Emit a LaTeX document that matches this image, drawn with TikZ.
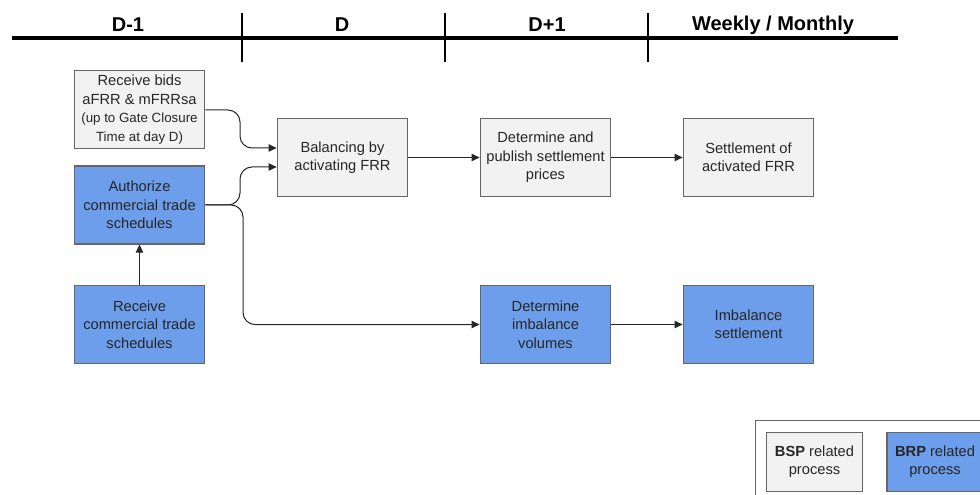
\documentclass[tikz,border=0pt]{standalone}
\usepackage{fontspec}
\setmainfont{Liberation Sans}
\usetikzlibrary{arrows.meta}
\definecolor{bspfill}{HTML}{F2F2F2}
\definecolor{brpfill}{HTML}{6D9EEB}
\definecolor{boxline}{HTML}{666666}
\tikzset{
  proc/.style={draw=boxline, line width=0.8pt, minimum width=98pt, minimum height=58.5pt,
    inner sep=1pt, align=center, font=\fontsize{11}{13.8}\selectfont, text=black!85},
  bsp/.style={proc, fill=bspfill},
  brp/.style={proc, fill=brpfill},
  flow/.style={draw=black!85, line width=0.75pt, -{Triangle[length=6pt,width=5.5pt]}},
  curvy/.style={flow, rounded corners=9pt},
  hdr/.style={font=\bfseries\fontsize{15}{17}\selectfont},
  tick/.style={line width=1.6pt}
}
\begin{document}
\begin{tikzpicture}[x=0.75pt, y=-0.75pt]
\clip (0,0) rectangle (980,495);
\useasboundingbox (0,0) rectangle (980,495);
% timeline
\coordinate (tl0) at (12,38);
\coordinate (tl1) at (898,38);
\draw[line width=2.4pt] (tl0) -- (tl1);
\coordinate (t1a) at (242,13); \coordinate (t1b) at (242,62);
\coordinate (t2a) at (445,13); \coordinate (t2b) at (445,62);
\coordinate (t3a) at (648,13); \coordinate (t3b) at (648,62);
\draw[tick] (t1a) -- (t1b);
\draw[tick] (t2a) -- (t2b);
\draw[tick] (t3a) -- (t3b);
\node[hdr] (h1) at (128,25) {D-1};
\node[hdr] (h2) at (342,25) {D};
\node[hdr] (h3) at (547,25) {D+1};
\node[hdr] (h4) at (773,25) {Weekly / Monthly};
% boxes
\node[bsp] (bids) at (139.5,109.5) {Receive bids\\aFRR \& mFRRsa\\{\fontsize{10}{13}\selectfont (up to Gate Closure}\\{\fontsize{10}{13}\selectfont Time at day D)}};
\node[brp] (auth) at (139.5,205) {Authorize\\commercial trade\\schedules};
\node[brp] (recv) at (139.5,324.5) {Receive\\commercial trade\\schedules};
\node[bsp] (bal) at (342.5,157.5) {Balancing by\\activating FRR};
\node[bsp] (pub) at (545.5,157.5) {Determine and\\publish settlement\\prices};
\node[bsp] (sfrr) at (748.5,157.5) {Settlement of\\activated FRR};
\node[brp] (vol) at (545.5,324.5) {Determine\\imbalance\\volumes};
\node[brp] (imb) at (748.5,324.5) {Imbalance\\settlement};
% connectors
\coordinate (c1) at (240,110);
\coordinate (c2) at (240,148);
\draw[curvy] (bids.east |- c1) -- (c1) -- (c2) -- (bal.west |- c2);
\coordinate (c3) at (240,205);
\coordinate (c4) at (240,167);
\draw[curvy] (auth.east) -- (c3) -- (c4) -- (bal.west |- c4);
\coordinate (c5) at (243,205);
\coordinate (c6) at (243,324.5);
\draw[curvy] (auth.east) -- (c5) -- (c6) -- (vol.west);
\draw[flow] (recv.north) -- (auth.south);
\draw[flow] (bal.east) -- (pub.west);
\draw[flow] (pub.east) -- (sfrr.west);
\draw[flow] (vol.east) -- (imb.west);
% legend
\node[draw=boxline, line width=0.6pt, fill=white, minimum width=200pt, minimum height=80pt, anchor=north west] (leg) at (755,420) {};
\node[bsp, minimum width=72pt, minimum height=44.5pt] (lbsp) at (814.5,462) {\textbf{BSP} related\\process};
\node[brp, minimum width=72pt, minimum height=44.5pt] (lbrp) at (935,462) {\textbf{BRP} related\\process};
\end{tikzpicture}
\end{document}
